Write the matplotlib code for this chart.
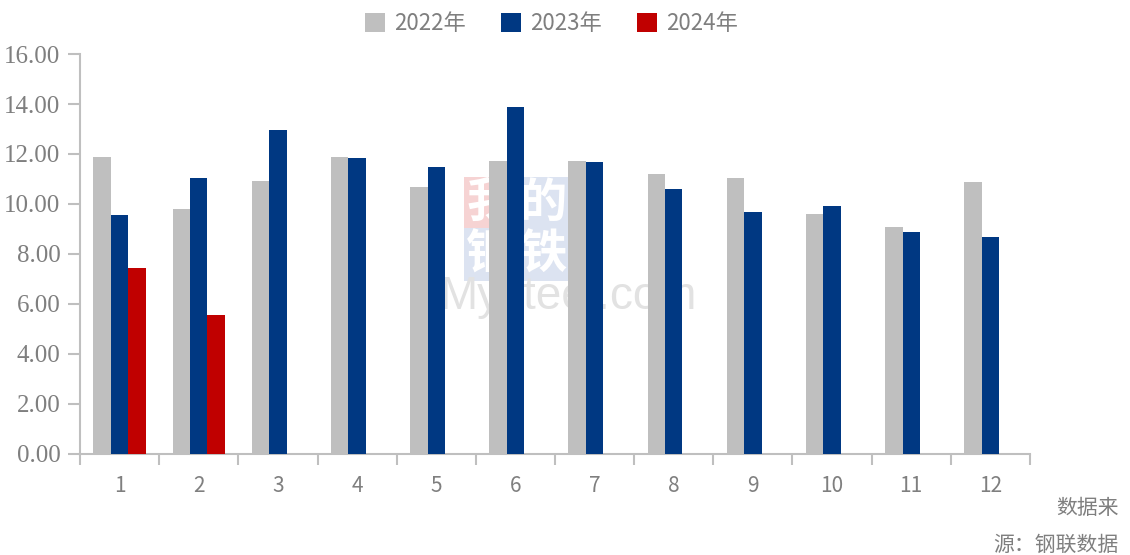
import matplotlib
matplotlib.use("Agg")
from matplotlib import pyplot as plt
import numpy as np

MONTHS = ["1", "2", "3", "4", "5", "6", "7", "8", "9", "10", "11", "12"]
Y2022 = [11.88, 9.79, 10.93, 11.88, 10.68, 11.71, 11.71, 11.21, 11.04, 9.59, 9.09, 10.87]
Y2023 = [9.54, 11.03, 12.97, 11.85, 11.49, 13.87, 11.67, 10.60, 9.68, 9.92, 8.88, 8.68]
Y2024 = [7.45, 5.55]
SERIES = ["2022年", "2023年", "2024年"]
COLORS = ["#BFBFBF", "#003882", "#C00000"]
YTICKS = [0, 2, 4, 6, 8, 10, 12, 14, 16]

CJK = ["Noto Sans CJK SC", "DejaVu Sans"]
AXIS_GRAY = "#BFBFBF"
TEXT_GRAY = "#7F7F7F"
WIDTH = 0.22

fig = plt.figure(figsize=(11.3, 5.55), dpi=100)
ax = fig.add_axes([0.0708, 0.182, 0.8407, 0.7207])

x = np.arange(len(MONTHS))
ax.bar(x - WIDTH, Y2022, WIDTH, color=COLORS[0], label=SERIES[0], zorder=3)
ax.bar(x, Y2023, WIDTH, color=COLORS[1], label=SERIES[1], zorder=3)
ax.bar(x[:len(Y2024)] + WIDTH, Y2024, WIDTH, color=COLORS[2], label=SERIES[2], zorder=3)

ax.set_xlim(-0.5, len(MONTHS) - 0.5)
ax.set_ylim(0, 16)
ax.set_yticks(YTICKS)
ax.set_yticklabels([f"{v:.2f}" for v in YTICKS], family=["Liberation Serif"],
                   fontsize=18, color=TEXT_GRAY)
ax.set_xticks(x)
ax.set_xticklabels(MONTHS, family=CJK, fontsize=15, color=TEXT_GRAY)
ax.tick_params(axis="x", which="major", length=0, pad=15)
ax.set_xticks(np.arange(-0.5, len(MONTHS)), minor=True)
ax.tick_params(axis="x", which="minor", length=8, width=1.5, color=AXIS_GRAY)
ax.tick_params(axis="y", length=9, width=1.5, color=AXIS_GRAY, pad=5)

for s in ["top", "right"]:
    ax.spines[s].set_visible(False)
for s in ["left", "bottom"]:
    ax.spines[s].set_color(AXIS_GRAY)
    ax.spines[s].set_linewidth(1.5)

# watermark (drawn behind the bars)
wm = [("我", 0.4336, 0.634, "#F6D3D3"),
      ("的", 0.4805, 0.634, "#DCE3F1"),
      ("钢", 0.4336, 0.542, "#DCE3F1"),
      ("铁", 0.4805, 0.542, "#DCE3F1")]
for ch, fx, fy, bg in wm:
    fig.text(fx, fy, ch, family=CJK, fontsize=34, color="white", ha="center",
             va="center", weight="bold", zorder=0,
             bbox=dict(boxstyle="square,pad=0.05", fc=bg, ec="none"))
fig.text(0.503, 0.465, "Mysteel.com", family=["Liberation Sans"], fontsize=33,
         color="#E2E2E2", ha="center", va="center", zorder=0)
ax.set_zorder(1)
ax.patch.set_alpha(0)

leg = fig.legend(loc="upper center", bbox_to_anchor=(0.488, 1.014), ncol=3,
                 frameon=False, prop={"family": CJK, "size": 16},
                 handlelength=0.9, handleheight=0.9, handletextpad=0.4,
                 columnspacing=1.6)
for t in leg.get_texts():
    t.set_color(TEXT_GRAY)

fig.text(0.99, 0.085, "数据来", family=CJK, fontsize=15, color=TEXT_GRAY,
         ha="right", va="center", style="italic")
fig.text(0.99, 0.018, "源：钢联数据", family=CJK, fontsize=15, color=TEXT_GRAY,
         ha="right", va="center", style="italic")

fig.savefig("out.png", dpi=100)
